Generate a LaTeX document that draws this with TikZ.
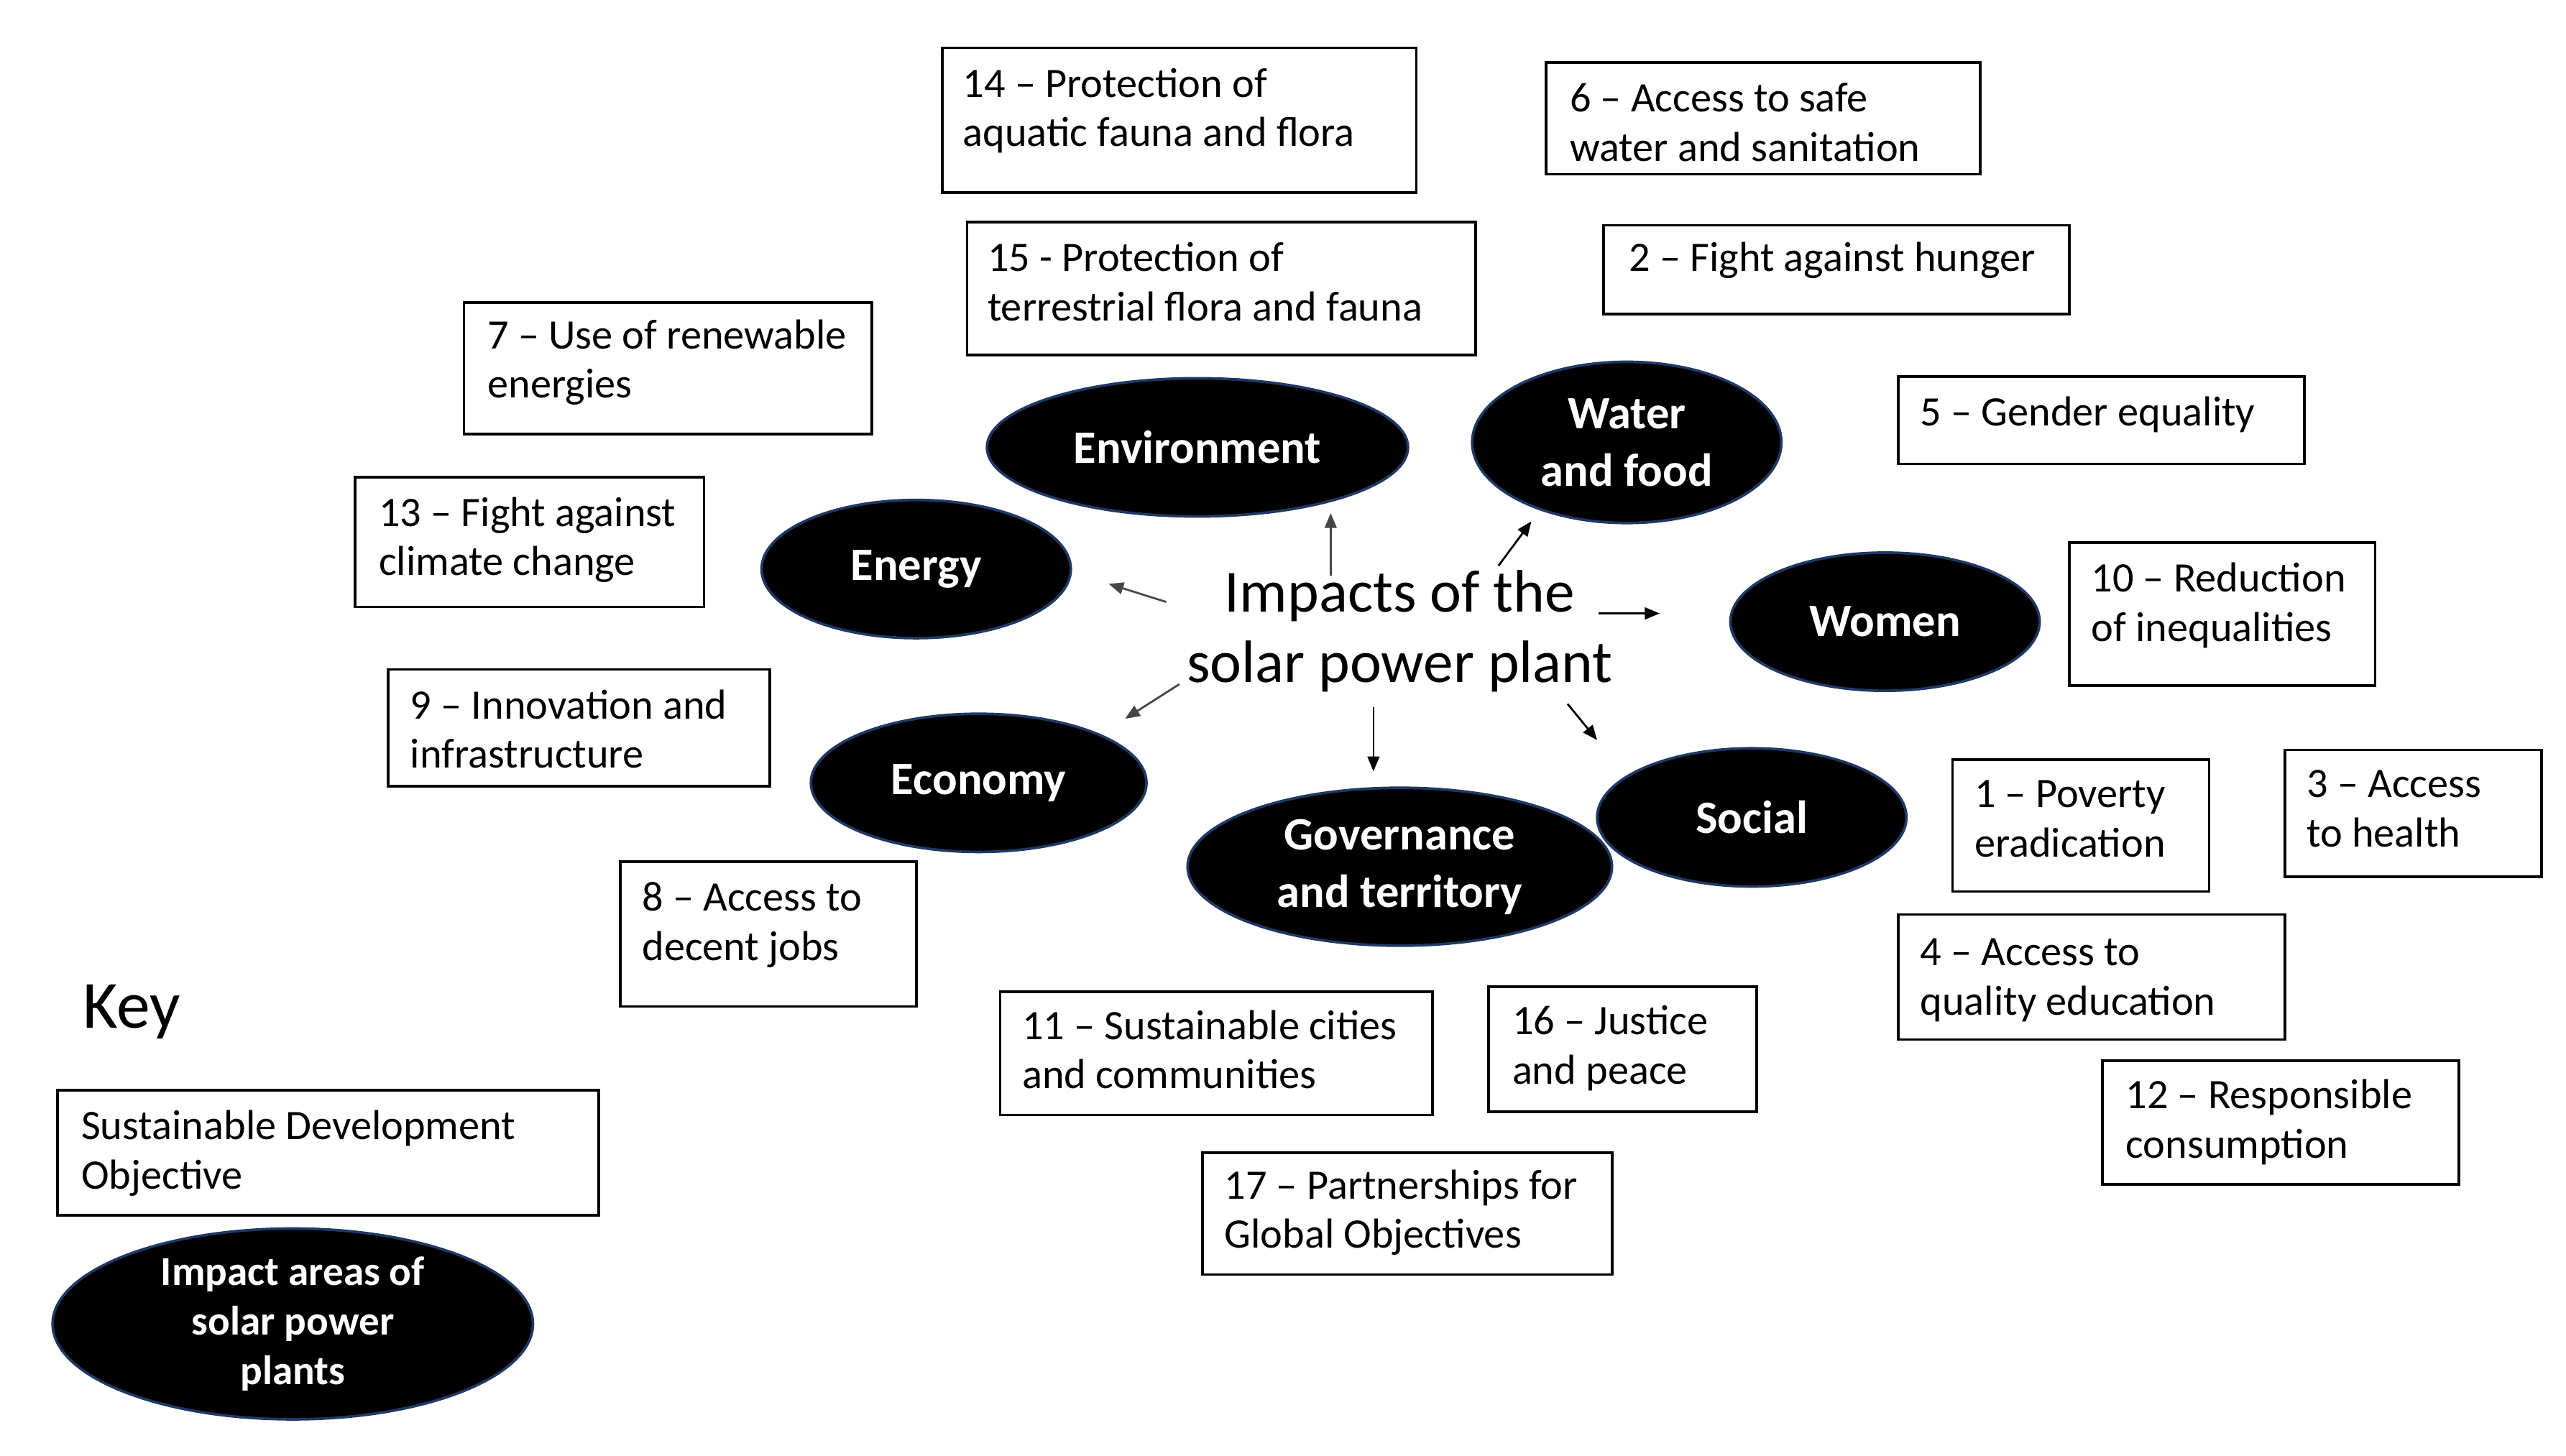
\documentclass[tikz,border=0pt]{standalone}
\usepackage{fontspec}
\setmainfont{Carlito}
\usetikzlibrary{arrows.meta,shapes.geometric,positioning,fit}
\definecolor{navyedge}{RGB}{31,56,100}
\definecolor{arrowgray}{RGB}{70,70,70}
% #7 = baseline of the LAST text line
\newcommand\sdgnode[8]{%
  \node[sdgbox, fit={(#2,#3) (#4,#5)}] (#1) {};
  \node[sdgtxt] (#1t) at (#6,#7) {#8};
}
\begin{document}
\begin{tikzpicture}[x=0.5pt,y=-0.5pt,
  sdgbox/.style={draw=black, line width=0.8pt, rectangle, inner sep=0pt},
  sdgtxt/.style={anchor=base west, inner sep=0pt, align=left, font=\fontsize{12.75}{15}\selectfont},
  area/.style={ellipse, fill=black, draw=navyedge, line width=0.8pt, inner sep=0pt},
  arealbl/.style={text=white, align=center, inner sep=0pt, font=\bfseries\fontsize{14.1}{17.5}\selectfont},
  imp/.style={-{Triangle[length=4.5pt,width=3.6pt]}, line width=0.6pt, draw=black},
  impgray/.style={imp, draw=arrowgray},
]
\useasboundingbox (0,0) rectangle (1560,885);
\fill[white] (0,0) rectangle (1560,885);

% SDG boxes
\sdgnode{b14}{573}{29}{861}{117}{585}{89}{14 – Protection of\\aquatic fauna and flora}
\sdgnode{b6}{940}{38}{1204}{106}{954}{98}{6 – Access to safe\\water and sanitation}
\sdgnode{b15}{588}{135}{897}{216}{600}{195}{15 - Protection of\\terrestrial flora and fauna}
\sdgnode{b2}{975}{137}{1258}{191}{990}{165}{2 – Fight against hunger}
\sdgnode{b7}{282}{184}{530}{264}{296}{242}{7 – Use of renewable\\energies}
\sdgnode{b5}{1154}{229}{1401}{282}{1167}{259}{5 – Gender equality}
\sdgnode{b13}{216}{290}{428}{369}{230}{350}{13 – Fight against\\climate change}
\sdgnode{b10}{1258}{330}{1444}{417}{1271}{390}{10 – Reduction\\of inequalities}
\sdgnode{b9}{236}{407}{468}{478}{249}{467}{9 – Innovation and\\infrastructure}
\sdgnode{b1}{1187}{462}{1343}{542}{1200}{521}{1 – Poverty\\eradication}
\sdgnode{b3}{1389}{456}{1545}{533}{1402}{515}{3 – Access\\to health}
\sdgnode{b8}{377}{524}{557}{612}{390}{584}{8 – Access to\\decent jobs}
\sdgnode{b4}{1154}{556}{1389}{632}{1167}{617}{4 – Access to\\quality education}
\sdgnode{b11}{608}{603}{871}{678}{621}{662}{11 – Sustainable cities\\and communities}
\sdgnode{b16}{905}{600}{1068}{676}{919}{659}{16 – Justice\\and peace}
\sdgnode{b12}{1278}{645}{1495}{720}{1292}{704}{12 – Responsible\\consumption}
\sdgnode{b17}{731}{701}{980}{775}{744}{759}{17 – Partnerships for\\Global Objectives}
\sdgnode{keybox}{35}{663}{364}{739}{49}{723}{Sustainable Development\\Objective}

% Key label
\node[anchor=base west, inner sep=0pt, font=\fontsize{20.5}{24}\selectfont] (keylbl) at (50,625) {Key};

% Impact areas
\node[area, minimum width=128pt, minimum height=42pt, label={[arealbl]center:Environment}] (env) at (728,272) {};
\node[area, minimum width=94pt, minimum height=49pt, label={[arealbl]center:Water\\and food}] (water) at (989,269) {};
\node[area, minimum width=94pt, minimum height=42pt, label={[arealbl]center:Energy}] (energy) at (557,346) {};
\node[area, minimum width=94pt, minimum height=42pt, label={[arealbl]center:Women}] (women) at (1146,378) {};
\node[area, minimum width=102pt, minimum height=42pt, label={[arealbl]center:Economy}] (economy) at (595,476) {};
\node[area, minimum width=129pt, minimum height=48pt, label={[arealbl]center:Governance\\and territory}] (gov) at (851,527) {};
\node[area, minimum width=94pt, minimum height=42pt, label={[arealbl]center:Social}] (social) at (1065,497) {};
\node[area, minimum width=146pt, minimum height=58pt, label={[arealbl, font=\bfseries\fontsize{12.5}{15}\selectfont]center:Impact areas of\\solar power\\plants}] (keyarea) at (178,805) {};

% Centre
\node[anchor=base, align=center, inner sep=0pt, font=\fontsize{18.2}{21.5}\selectfont] (impact) at (851,415) {Impacts of the\\solar power plant};

% Arrow ends
\coordinate (aUp0) at (809,350);  \coordinate (aUp1) at (809,312);
\coordinate (aWa0) at (911,344);  \coordinate (aWa1) at (931,317);
\coordinate (aEn0) at (709,366);  \coordinate (aEn1) at (674,355);
\coordinate (aWo0) at (972,373);  \coordinate (aWo1) at (1009,373);
\coordinate (aEc0) at (717,416);  \coordinate (aEc1) at (684,437);
\coordinate (aGo0) at (835,430);  \coordinate (aGo1) at (835,469);
\coordinate (aSo0) at (953,428);  \coordinate (aSo1) at (971,450);

\draw[impgray] (aUp0) -- (aUp1);
\draw[imp] (aWa0) -- (aWa1);
\draw[impgray] (aEn0) -- (aEn1);
\draw[imp] (aWo0) -- (aWo1);
\draw[impgray] (aEc0) -- (aEc1);
\draw[imp] (aGo0) -- (aGo1);
\draw[imp] (aSo0) -- (aSo1);
\end{tikzpicture}
\end{document}
